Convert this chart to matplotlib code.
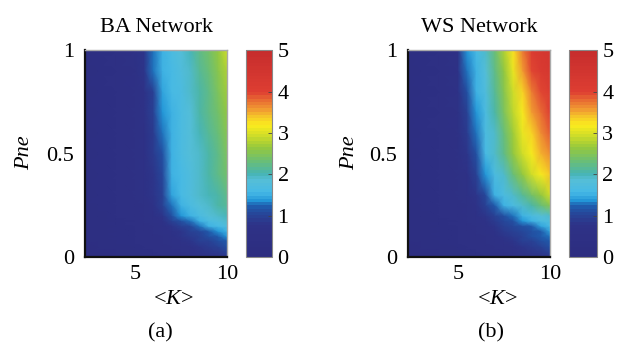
import numpy as np
import matplotlib
matplotlib.use("Agg")
import matplotlib.pyplot as plt
from matplotlib.colors import LinearSegmentedColormap

plt.rcParams['font.family'] = ['Liberation Serif', 'DejaVu Serif']
plt.rcParams['mathtext.fontset'] = 'custom'
plt.rcParams['mathtext.rm'] = 'Liberation Serif'
plt.rcParams['mathtext.it'] = 'Liberation Serif:italic'

# --- data ---
K = [2.3, 3, 4, 5, 5.5, 6, 6.5, 7, 7.5, 8, 8.5, 9, 9.5, 10]
Pne = [0, 0.05, 0.08, 0.1, 0.125, 0.15, 0.175, 0.2, 0.25, 0.3,
       0.4, 0.5, 0.6, 0.7, 0.8, 0.9, 1.0]

ba_vals = [
    [0.20, 0.20, 0.25, 0.30, 0.30, 0.35, 0.40, 0.45, 0.50, 0.55, 0.60, 0.65, 0.70, 0.80],
    [0.20, 0.25, 0.30, 0.35, 0.40, 0.45, 0.50, 0.55, 0.60, 0.70, 0.80, 0.90, 1.00, 1.10],
    [0.25, 0.30, 0.35, 0.40, 0.45, 0.50, 0.55, 0.65, 0.75, 0.85, 0.95, 1.00, 1.10, 1.20],
    [0.25, 0.30, 0.35, 0.40, 0.45, 0.50, 0.60, 0.70, 0.80, 0.90, 1.00, 1.10, 1.20, 1.33],
    [0.25, 0.30, 0.35, 0.42, 0.48, 0.55, 0.65, 0.75, 0.85, 0.95, 1.05, 1.18, 1.35, 1.55],
    [0.25, 0.30, 0.35, 0.45, 0.50, 0.60, 0.70, 0.82, 0.95, 1.08, 1.25, 1.50, 1.62, 1.72],
    [0.28, 0.30, 0.38, 0.48, 0.55, 0.65, 0.78, 0.95, 1.15, 1.32, 1.55, 1.68, 1.78, 1.88],
    [0.30, 0.30, 0.40, 0.50, 0.60, 0.70, 0.85, 1.10, 1.35, 1.55, 1.70, 1.82, 1.92, 2.02],
    [0.30, 0.35, 0.40, 0.50, 0.60, 0.75, 0.95, 1.30, 1.55, 1.70, 1.85, 1.95, 2.05, 2.15],
    [0.30, 0.35, 0.45, 0.55, 0.65, 0.80, 1.00, 1.45, 1.60, 1.75, 1.90, 2.00, 2.10, 2.25],
    [0.30, 0.35, 0.45, 0.55, 0.65, 0.85, 1.05, 1.50, 1.60, 1.75, 1.90, 2.05, 2.20, 2.35],
    [0.30, 0.35, 0.45, 0.55, 0.70, 0.90, 1.15, 1.55, 1.65, 1.80, 1.95, 2.10, 2.25, 2.45],
    [0.30, 0.35, 0.45, 0.55, 0.70, 0.90, 1.25, 1.55, 1.65, 1.80, 2.00, 2.15, 2.30, 2.50],
    [0.30, 0.35, 0.45, 0.60, 0.75, 0.95, 1.35, 1.55, 1.70, 1.85, 2.05, 2.20, 2.40, 2.60],
    [0.30, 0.35, 0.45, 0.60, 0.75, 1.00, 1.45, 1.60, 1.70, 1.90, 2.10, 2.25, 2.45, 2.70],
    [0.30, 0.35, 0.50, 0.60, 0.80, 1.25, 1.50, 1.60, 1.75, 1.95, 2.15, 2.30, 2.55, 2.80],
    [0.30, 0.35, 0.50, 0.65, 0.85, 1.30, 1.55, 1.65, 1.80, 2.00, 2.20, 2.40, 2.65, 2.90],
]

ws_vals = [
    [0.20, 0.20, 0.25, 0.30, 0.30, 0.35, 0.40, 0.45, 0.50, 0.55, 0.60, 0.65, 0.70, 0.80],
    [0.20, 0.25, 0.30, 0.35, 0.40, 0.45, 0.50, 0.55, 0.60, 0.70, 0.80, 0.90, 1.00, 1.10],
    [0.25, 0.30, 0.35, 0.40, 0.45, 0.50, 0.55, 0.65, 0.75, 0.85, 0.95, 1.00, 1.10, 1.20],
    [0.25, 0.30, 0.35, 0.40, 0.45, 0.50, 0.60, 0.70, 0.80, 0.90, 1.00, 1.10, 1.20, 1.32],
    [0.25, 0.30, 0.35, 0.42, 0.48, 0.55, 0.65, 0.78, 0.90, 1.00, 1.08, 1.15, 1.22, 1.45],
    [0.25, 0.30, 0.35, 0.45, 0.50, 0.60, 0.70, 0.85, 0.97, 1.07, 1.15, 1.22, 1.42, 1.60],
    [0.28, 0.30, 0.38, 0.48, 0.55, 0.65, 0.78, 0.92, 1.05, 1.15, 1.35, 1.52, 1.65, 1.78],
    [0.30, 0.30, 0.40, 0.50, 0.60, 0.70, 0.85, 1.00, 1.10, 1.30, 1.55, 1.70, 1.82, 1.95],
    [0.30, 0.35, 0.40, 0.50, 0.60, 0.75, 0.95, 1.20, 1.50, 1.70, 1.90, 2.10, 2.30, 2.50],
    [0.30, 0.35, 0.45, 0.55, 0.65, 0.85, 1.05, 1.50, 1.68, 1.90, 2.15, 2.40, 2.65, 2.90],
    [0.30, 0.35, 0.45, 0.55, 0.70, 0.95, 1.40, 1.65, 1.95, 2.30, 2.65, 2.95, 3.20, 3.40],
    [0.30, 0.35, 0.45, 0.60, 0.80, 1.15, 1.60, 1.90, 2.25, 2.60, 2.90, 3.15, 3.45, 3.65],
    [0.30, 0.35, 0.45, 0.60, 0.90, 1.30, 1.65, 1.95, 2.30, 2.70, 3.05, 3.35, 3.65, 3.85],
    [0.30, 0.35, 0.50, 0.60, 1.00, 1.40, 1.70, 2.05, 2.45, 2.85, 3.20, 3.55, 3.80, 4.00],
    [0.30, 0.35, 0.50, 0.65, 1.10, 1.50, 1.78, 2.15, 2.55, 2.95, 3.35, 3.70, 3.95, 4.10],
    [0.30, 0.35, 0.50, 0.65, 1.25, 1.55, 1.85, 2.22, 2.65, 3.10, 3.55, 3.95, 4.20, 4.35],
    [0.30, 0.35, 0.50, 0.70, 1.35, 1.60, 1.90, 2.30, 2.75, 3.25, 3.72, 4.10, 4.30, 4.45],
]

titles = ["BA Network", "WS Network"]
panel_tags = ["(a)", "(b)"]
cbar_ticks = [0, 1, 2, 3, 4, 5]

# colormap picked from the colour bar
cstops = [
    (0.00, (45, 45, 128)), (0.15, (46, 50, 135)), (0.21, (38, 72, 155)),
    (0.245, (30, 95, 175)), (0.27, (35, 150, 215)), (0.31, (70, 185, 230)),
    (0.37, (85, 190, 215)), (0.40, (70, 180, 180)), (0.46, (105, 190, 120)),
    (0.53, (150, 200, 60)), (0.59, (210, 222, 40)), (0.64, (250, 235, 30)),
    (0.68, (245, 200, 40)), (0.72, (240, 150, 50)), (0.77, (230, 100, 50)),
    (0.80, (222, 62, 50)), (1.00, (198, 45, 45)),
]
cmap = LinearSegmentedColormap.from_list(
    "m", [(p, tuple(c / 255 for c in rgb)) for p, rgb in cstops], N=64)

fig = plt.figure(figsize=(6.21, 3.46), dpi=100)

ax_pos = [[0.137, 0.257, 0.229, 0.598], [0.657, 0.257, 0.229, 0.598]]
cb_pos = [[0.396, 0.257, 0.042, 0.598], [0.916, 0.257, 0.045, 0.598]]
xlab_x = [173 / 621, 497 / 621]
tag_x = [160 / 621, 491 / 621]
ylab_x = [25 / 621, 350 / 621]
fs = 16

for i, vals in enumerate([ba_vals, ws_vals]):
    ax = fig.add_axes(ax_pos[i])
    m = ax.pcolormesh(K, Pne, np.array(vals), cmap=cmap, vmin=0, vmax=5,
                      shading='gouraud', rasterized=True)
    ax.set_xlim(K[0], K[-1])
    ax.set_ylim(0, 1)
    ax.set_xticks([5, 10])
    ax.set_yticks([0, 0.5, 1])
    ax.set_yticklabels(["0", "0.5", "1"])
    ax.tick_params(length=0, labelsize=fs)
    ax.tick_params(axis='y', pad=8)
    ax.tick_params(axis='x', pad=6)
    for s in ['left', 'bottom']:
        ax.spines[s].set_linewidth(1.6)
        ax.spines[s].set_color('#111111')
    for s in ['top', 'right']:
        ax.spines[s].set_linewidth(1.0)
        ax.spines[s].set_color('#aaaaaa')
        ax.spines[s].set_linestyle((0, (1, 1)))
    ax.set_title(titles[i], fontsize=fs, pad=13)

    cax = fig.add_axes(cb_pos[i])
    cb = fig.colorbar(m, cax=cax, ticks=cbar_ticks)
    cb.outline.set_edgecolor('#888888')
    cb.outline.set_linewidth(0.8)
    cax.tick_params(labelsize=fs, length=3, width=0.6, color='#444444',
                    direction='in', pad=4)

    fig.text(xlab_x[i], 1 - 300 / 346, "<$K$>", fontsize=fs,
             ha='center', va='center')
    fig.text(tag_x[i], 1 - 333 / 346, panel_tags[i], fontsize=fs,
             ha='center', va='center')
    fig.text(ylab_x[i], 1 - 153 / 346, "Pne", fontsize=fs, style='italic',
             rotation=90, ha='center', va='center')

fig.savefig("out.png", dpi=100)
